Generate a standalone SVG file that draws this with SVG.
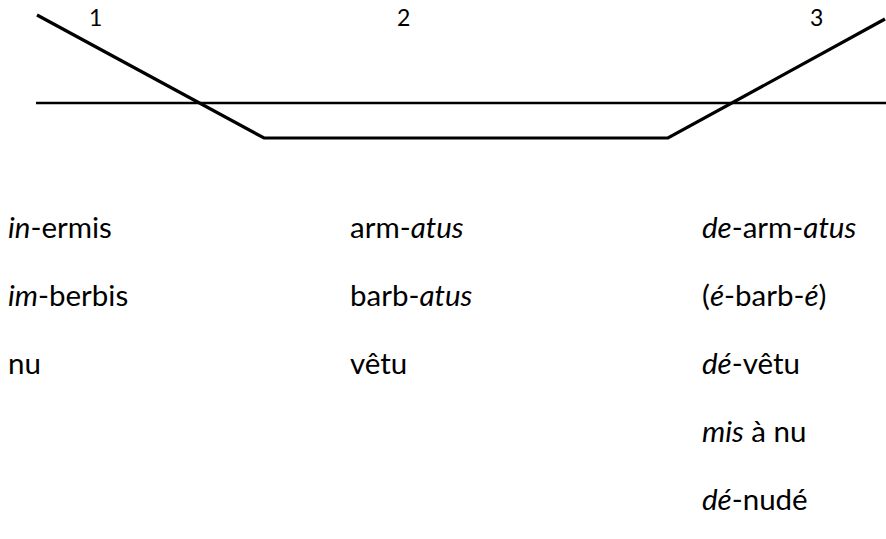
<svg xmlns="http://www.w3.org/2000/svg" width="886" height="539" viewBox="0 0 886 539">
  <style>
    .lbl { font-family: Lato, "Open Sans", "Liberation Sans", sans-serif; font-size: 29.5px; fill: #000; }
    .num { font-family: Lato, "Open Sans", "Liberation Sans", sans-serif; font-size: 23px; fill: #000; }
    .it { font-style: italic; }
    .ln { fill: none; stroke: #000; stroke-linejoin: miter; }
  </style>
  <rect width="886" height="539" fill="#fff"/>

  <!-- reference line and the three-stage profile -->
  <g id="connectors">
    <line class="ln" x1="36" y1="103" x2="886" y2="103" stroke-width="2.6"/>
    <polyline class="ln" points="37,15 264,138 668,138 885,19" stroke-width="3.2"/>
  </g>

  <!-- stage numbers -->
  <g id="stage-numbers">
    <text class="num" x="89" y="26">1</text>
    <text class="num" x="397" y="26">2</text>
    <text class="num" x="810" y="26">3</text>
  </g>

  <!-- column 1: privative forms -->
  <g id="col1">
    <text class="lbl" x="8" y="238"><tspan class="it">in</tspan>-ermis</text>
    <text class="lbl" x="8" y="306"><tspan class="it">im</tspan>-berbis</text>
    <text class="lbl" x="8" y="374">nu</text>
  </g>

  <!-- column 2: base forms -->
  <g id="col2">
    <text class="lbl" x="350" y="238">arm-<tspan class="it">atus</tspan></text>
    <text class="lbl" x="350" y="306">barb-<tspan class="it">atus</tspan></text>
    <text class="lbl" x="350" y="374">vêtu</text>
  </g>

  <!-- column 3: reversive forms -->
  <g id="col3">
    <text class="lbl" x="702" y="238"><tspan class="it">de</tspan>-arm-<tspan class="it">atus</tspan></text>
    <text class="lbl" x="702" y="306">(<tspan class="it">é</tspan>-barb-<tspan class="it">é</tspan>)</text>
    <text class="lbl" x="702" y="374"><tspan class="it">dé</tspan>-vêtu</text>
    <text class="lbl" x="702" y="442"><tspan class="it">mis</tspan> à nu</text>
    <text class="lbl" x="702" y="510"><tspan class="it">dé</tspan>-nudé</text>
  </g>
</svg>
